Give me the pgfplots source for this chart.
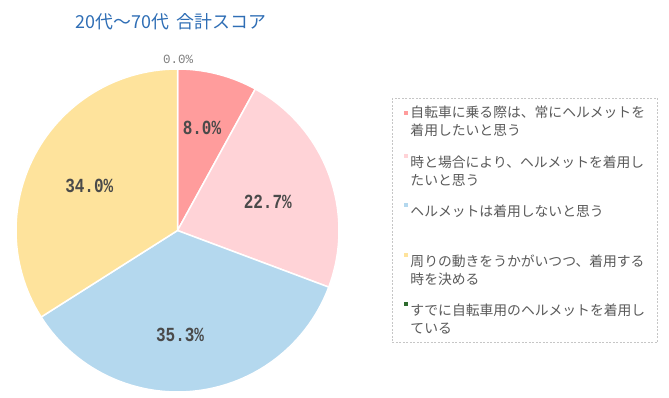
\documentclass[border=0pt]{standalone}
\usepackage{pgfplots}
\pgfplotsset{compat=1.18}
\usepackage{pgfplotstable}
\usepgfplotslibrary{polar}
\usepackage{fontspec}
\setmainfont{Noto Sans CJK JP}
\newfontfamily\numfont[FakeStretch=0.8]{Liberation Mono}
\newfontfamily\zerofont{Liberation Mono}
\definecolor{cA}{HTML}{FF9C9C}
\definecolor{cB}{HTML}{FFD3D7}
\definecolor{cC}{HTML}{B4D8EE}
\definecolor{cD}{HTML}{FEE39C}
\definecolor{cE}{HTML}{2E6B2E}
\definecolor{titleblue}{HTML}{2F6EB5}
\definecolor{lab}{HTML}{4A4A4A}
\definecolor{legtext}{HTML}{5A5A5A}
\pgfplotstableread{
share
8.0
22.7
35.3
34.0
0.0
}\sharetable
\newcommand{\legtxt}[3][0pt]{\parbox[b]{233pt}{\fontsize{13.8}{18}\selectfont\rule{0pt}{#1}#2\\#3}}
\begin{document}
\begin{tikzpicture}
\useasboundingbox (0,0) rectangle (669pt,397pt);
\pgfplotstablegetelem{0}{share}\of\sharetable \let\sA\pgfplotsretval
\pgfplotstablegetelem{1}{share}\of\sharetable \let\sB\pgfplotsretval
\pgfplotstablegetelem{2}{share}\of\sharetable \let\sC\pgfplotsretval
\pgfplotstablegetelem{3}{share}\of\sharetable \let\sD\pgfplotsretval
\pgfmathsetmacro{\tA}{90}
\pgfmathsetmacro{\tB}{\tA-3.6*\sA}
\pgfmathsetmacro{\tC}{\tB-3.6*\sB}
\pgfmathsetmacro{\tD}{\tC-3.6*\sC}
\pgfmathsetmacro{\tE}{\tD-3.6*\sD}
\node[font=\fontsize{17.9}{20}\selectfont, text=titleblue] at (171pt,375pt) {20代～70代\hspace{0.45em}合計スコア};
\begin{polaraxis}[
  at={(177.5pt,166.5pt)}, anchor=center,
  width=323pt, height=323pt, scale only axis,
  hide axis, ymin=0, ymax=1, xmin=0, xmax=360,
  clip=false,
  legend style={at={(1.165,0.9095)}, anchor=north west,
    draw=gray!45, dash pattern=on 2pt off 1.5pt, fill=white,
    inner xsep=12pt, inner ysep=5.5pt,
    text=legtext, cells={anchor=base west}},
  legend cell align=left,
  legend image code/.code={\fill[#1,draw=none,solid] (0pt,6pt) rectangle (4pt,10pt);},
]
\addplot[fill=cA, draw=white, line width=1.5pt, domain=\tB:\tA, samples=30] {1} -- (axis cs:0,0) -- cycle;
\addlegendentry{\legtxt{自転車に乗る際は、常にヘルメットを}{着用したいと思う}}
\addplot[fill=cB, draw=white, line width=1.5pt, domain=\tC:\tB, samples=40] {1} -- (axis cs:0,0) -- cycle;
\addlegendentry{\legtxt[26pt]{時と場合により、ヘルメットを着用し}{たいと思う}}
\addplot[fill=cC, draw=white, line width=1.5pt, domain=\tD:\tC, samples=60] {1} -- (axis cs:0,0) -- cycle;
\addlegendentry{\legtxt[26pt]{ヘルメットは着用しないと思う}{\mbox{}}}
\addplot[fill=cD, draw=white, line width=1.5pt, domain=\tE:\tD, samples=60] {1} -- (axis cs:0,0) -- cycle;
\addlegendentry{\legtxt[26pt]{周りの動きをうかがいつつ、着用する}{時を決める}}
\addlegendimage{fill=cE}
\addlegendentry{\legtxt[26pt]{すでに自転車用のヘルメットを着用し}{ている}}
\node[font=\numfont\bfseries\fontsize{20}{22}\selectfont, text=lab] at (axis cs:76.6,0.654) {8.0\%};
\node[font=\numfont\bfseries\fontsize{20}{22}\selectfont, text=lab] at (axis cs:17.8,0.587) {22.7\%};
\node[font=\numfont\bfseries\fontsize{20}{22}\selectfont, text=lab] at (axis cs:-88.6,0.648) {35.3\%};
\node[font=\numfont\bfseries\fontsize{20}{22}\selectfont, text=lab] at (axis cs:153,0.613) {34.0\%};
\node[font=\zerofont\fontsize{12.5}{14}\selectfont, text=gray] at (axis cs:89.8,1.058) {0.0\%};
\end{polaraxis}
\end{tikzpicture}
\end{document}
